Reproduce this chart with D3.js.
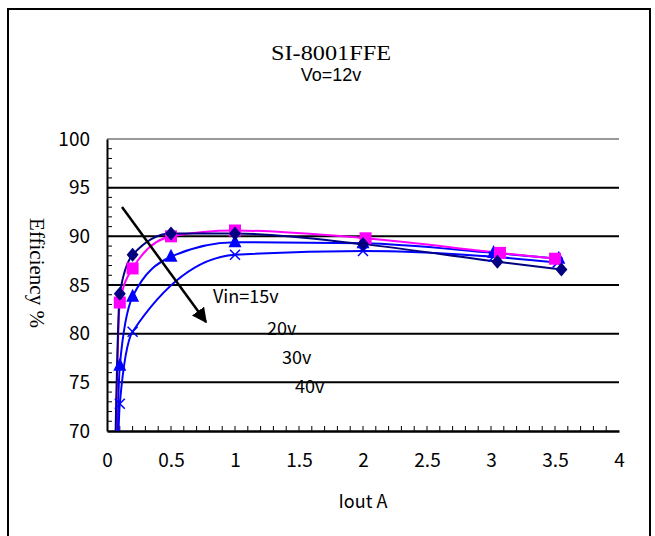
<!DOCTYPE html>
<html><head><meta charset="utf-8">
<script src="https://cdn.jsdelivr.net/npm/d3@7"></script>
<style>body{margin:0;background:#fff}svg{display:block}</style>
</head><body>
<script>
const xTicks = [0,0.5,1,1.5,2,2.5,3,3.5,4];
const yTicks = [70,75,80,85,90,95,100];
const v15 = [[0.05,58],[0.1,84.1],[0.2,88.1],[0.5,90.3],[1,90.3],[2,89.2],[3.05,87.4],[3.55,86.6]];
const v20 = [[0.05,55],[0.1,83.2],[0.2,86.7],[0.5,90.0],[1,90.6],[2.02,89.8],[3.07,88.3],[3.5,87.7]];
const v30 = [[0.05,50],[0.1,76.7],[0.2,83.8],[0.5,87.9],[1,89.4],[2,89.3],[3.02,88.3],[3.53,87.7]];
const v40 = [[0.05,45],[0.1,72.8],[0.2,80.2],[1,88.1],[2,88.5],[3.02,87.9],[3.52,87.3]];
const seriesNames = ["Vin=15v","20v","30v","40v"];
const series = [
  {name:seriesNames[0], data:v15, color:"#000080", marker:"diamond"},
  {name:seriesNames[1], data:v20, color:"#FF00FF", marker:"square"},
  {name:seriesNames[2], data:v30, color:"#0000FF", marker:"triangle"},
  {name:seriesNames[3], data:v40, color:"#0000FF", marker:"cross"}
];
const W=655,H=536;
const sans="'Noto Sans CJK JP', sans-serif";
const svg=d3.select("body").append("svg").attr("width",W).attr("height",H);
svg.append("rect").attr("x",8).attr("y",9).attr("width",642).attr("height",560)
  .attr("fill","none").attr("stroke","#000").attr("stroke-width",2);
const L=107,R=619,T=139,B=431;
const x=d3.scaleLinear().domain([0,4]).range([L,R]);
const y=d3.scaleLinear().domain([70,100]).range([B,T]);
// gridlines
svg.append("g").selectAll("line").data(yTicks.filter(d=>d>70)).join("line")
  .attr("x1",L).attr("x2",R).attr("y1",d=>y(d)).attr("y2",d=>y(d))
  .attr("stroke",d=>d===100?"#999":"#000").attr("stroke-width",2);
// axes
const ya=svg.append("g").attr("transform",`translate(${L},0)`)
  .call(d3.axisLeft(y).tickValues(yTicks).tickSize(0).tickPadding(17));
ya.select(".domain").attr("stroke","#000").attr("stroke-width",2);
ya.selectAll("text").attr("font-family",sans).attr("font-size",19).attr("fill","#000");
svg.append("g").selectAll("line").data(d3.range(71,100)).join("line")
  .attr("x1",L).attr("x2",L+5).attr("y1",d=>y(d)).attr("y2",d=>y(d)).attr("stroke","#000").attr("stroke-width",1);
const xa=svg.append("g").attr("transform",`translate(0,${B})`)
  .call(d3.axisBottom(x).tickValues(xTicks).tickFormat(d3.format("")).tickSize(0).tickPadding(23));
xa.select(".domain").attr("stroke","#000").attr("stroke-width",2.5);
xa.selectAll("text").attr("font-family",sans).attr("font-size",19).attr("fill","#000");
svg.append("g").selectAll("line").data(d3.range(1,40).map(d=>d/10)).join("line")
  .attr("x1",d=>x(d)).attr("x2",d=>x(d)).attr("y1",B).attr("y2",B-5).attr("stroke","#000").attr("stroke-width",1);
// clip
svg.append("clipPath").attr("id","clip").append("rect").attr("x",L).attr("y",T-10).attr("width",R-L+10).attr("height",B-T+10);
const line=d3.line().x(d=>x(d[0])).y(d=>y(d[1])).curve(d3.curveMonotoneX);
const g=svg.append("g").attr("clip-path","url(#clip)");
series.slice().reverse().forEach(s=>{
  g.append("path").attr("d",line(s.data)).attr("fill","none").attr("stroke",s.color).attr("stroke-width",2);
});
series.slice().reverse().forEach(s=>{
  const pts=s.data.filter(d=>d[1]>=70);
  const mg=g.append("g");
  pts.forEach(d=>{
    const cx=x(d[0]),cy=y(d[1]);
    if(s.marker==="diamond") mg.append("path").attr("d",`M${cx},${cy-7}L${cx+6},${cy}L${cx},${cy+7}L${cx-6},${cy}Z`).attr("fill",s.color);
    else if(s.marker==="square") mg.append("rect").attr("x",cx-6).attr("y",cy-6).attr("width",12).attr("height",12).attr("fill",s.color);
    else if(s.marker==="triangle") mg.append("path").attr("d",`M${cx},${cy-8}L${cx+6.5},${cy+5}L${cx-6.5},${cy+5}Z`).attr("fill",s.color);
    else mg.append("path").attr("d",`M${cx-5},${cy-5}L${cx+5},${cy+5}M${cx+5},${cy-5}L${cx-5},${cy+5}`).attr("stroke",s.color).attr("stroke-width",1.5);
  });
});
// arrow annotation
svg.append("defs").append("marker").attr("id","ah").attr("viewBox","0 0 10 10").attr("refX",9).attr("refY",5)
  .attr("markerWidth",6).attr("markerHeight",6).attr("orient","auto")
  .append("path").attr("d","M0,0L10,5L0,10Z").attr("fill","#000");
svg.append("line").attr("x1",122).attr("y1",207).attr("x2",206).attr("y2",322)
  .attr("stroke","#000").attr("stroke-width",2.5).attr("marker-end","url(#ah)");
const labPos=[[213,303],[267,335],[282,364],[295,393]];
seriesNames.forEach((n,i)=>{
  svg.append("text").attr("x",labPos[i][0]).attr("y",labPos[i][1]).text(n)
    .attr("font-family",sans).attr("font-size",18).attr("fill","#000");
});
// titles
svg.append("text").attr("x",331).attr("y",60).attr("text-anchor","middle").text("SI-8001FFE")
  .attr("font-family","'Liberation Serif', serif").attr("font-size",20).attr("textLength",120).attr("lengthAdjust","spacingAndGlyphs");
svg.append("text").attr("x",331).attr("y",81).attr("text-anchor","middle").text("Vo=12v")
  .attr("font-family","'Liberation Sans', sans-serif").attr("font-size",18);
svg.append("text").attr("transform","translate(30,273) rotate(90)").attr("text-anchor","middle").text("Efficiency %")
  .attr("font-family","'Liberation Serif', serif").attr("font-size",21);
svg.append("text").attr("x",363).attr("y",508).attr("text-anchor","middle").text("Iout A")
  .attr("font-family",sans).attr("font-size",18);
</script>
</body></html>
